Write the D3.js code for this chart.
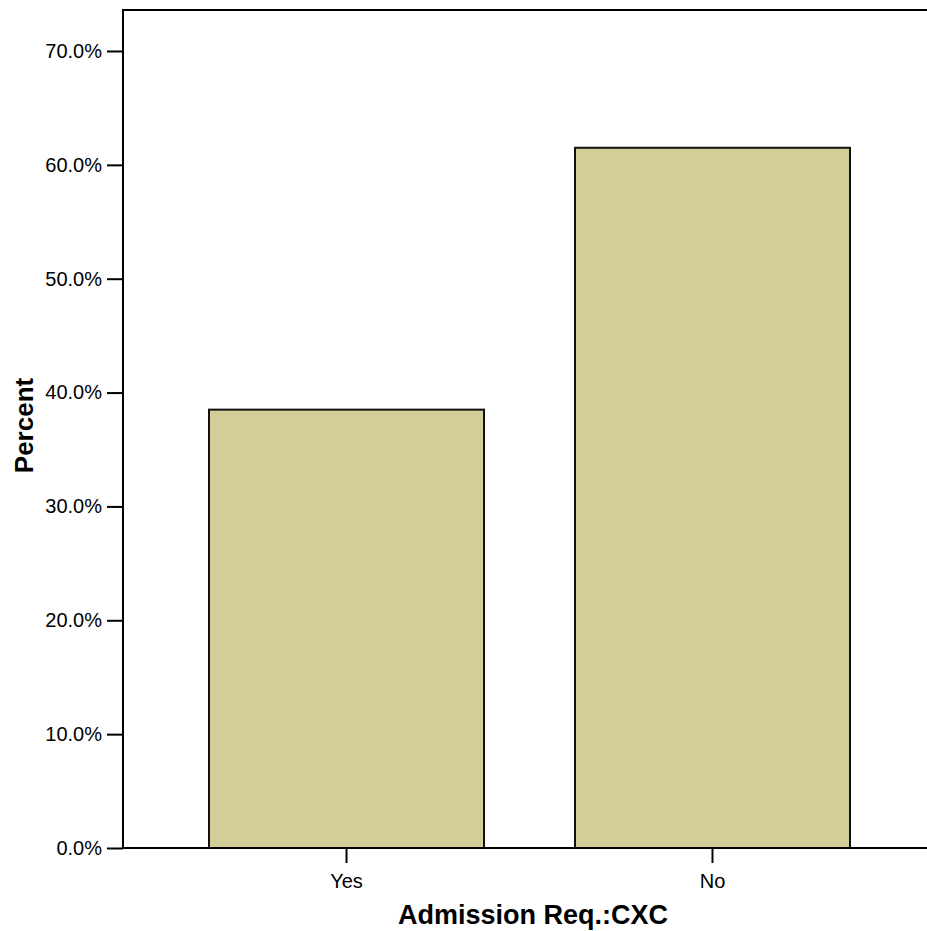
<!DOCTYPE html>
<html><head><meta charset="utf-8">
<script src="https://cdn.jsdelivr.net/npm/d3@7"></script>
<style>body{margin:0;background:#fff}svg{display:block}</style>
</head><body>
<script>
const categories = ["Yes", "No"];
const percentValues = [38.5, 61.5];
const yTickValues = [0, 10, 20, 30, 40, 50, 60, 70];

(function () {
const W = 927, H = 931;
const svg = d3.select("body").append("svg").attr("width", W).attr("height", H);
const font = "Liberation Sans, Arial, sans-serif";

const mLeft = 123, mTop = 10, mBottom = 848;
const y = d3.scaleLinear().domain([0, 73.6]).range([mBottom, mTop]);
const x = d3.scaleBand().domain(categories).range([mLeft, 936])
  .paddingInner(0.2486).paddingOuter(0.235);

// bars
svg.selectAll("rect.bar").data(categories).enter().append("rect")
  .attr("class", "bar")
  .attr("x", d => x(d))
  .attr("y", (d, i) => y(percentValues[i]))
  .attr("width", x.bandwidth())
  .attr("height", (d, i) => mBottom - y(percentValues[i]))
  .attr("fill", "#d3ce98")
  .attr("stroke", "#111")
  .attr("stroke-width", 2);

// frame top
svg.append("line").attr("x1", mLeft).attr("x2", W).attr("y1", mTop).attr("y2", mTop)
  .attr("stroke", "#000").attr("stroke-width", 2);

// y axis
const yAxis = svg.append("g").attr("transform", `translate(${mLeft},0)`)
  .call(d3.axisLeft(y).tickValues(yTickValues).tickSize(16).tickPadding(5)
    .tickFormat(d => d.toFixed(1) + "%"));
yAxis.select(".domain").remove();
yAxis.append("line").attr("x1", 0).attr("x2", 0).attr("y1", mTop - 1).attr("y2", mBottom + 1)
  .attr("stroke", "#000").attr("stroke-width", 2);
yAxis.selectAll(".tick line").attr("stroke", "#000").attr("stroke-width", 2);
yAxis.selectAll(".tick text").attr("font-family", font).attr("font-size", 20).attr("fill", "#000");

// x axis
const xAxis = svg.append("g").attr("transform", `translate(0,${mBottom})`)
  .call(d3.axisBottom(x).tickSize(15).tickPadding(11));
xAxis.select(".domain").remove();
xAxis.append("line").attr("x1", mLeft - 1).attr("x2", W).attr("y1", 0).attr("y2", 0)
  .attr("stroke", "#000").attr("stroke-width", 2);
xAxis.selectAll(".tick line").attr("stroke", "#000").attr("stroke-width", 2);
xAxis.selectAll(".tick text").attr("font-family", font).attr("font-size", 20).attr("fill", "#000");

// titles
svg.append("text").attr("x", 533).attr("y", 924).attr("text-anchor", "middle")
  .attr("font-family", font).attr("font-weight", "bold").attr("font-size", 27)
  .text("Admission Req.:CXC");
svg.append("text").attr("transform", "translate(32.5,425.5) rotate(-90)").attr("text-anchor", "middle")
  .attr("font-family", font).attr("font-weight", "bold").attr("font-size", 26)
  .text("Percent");
})();
</script>
</body></html>
